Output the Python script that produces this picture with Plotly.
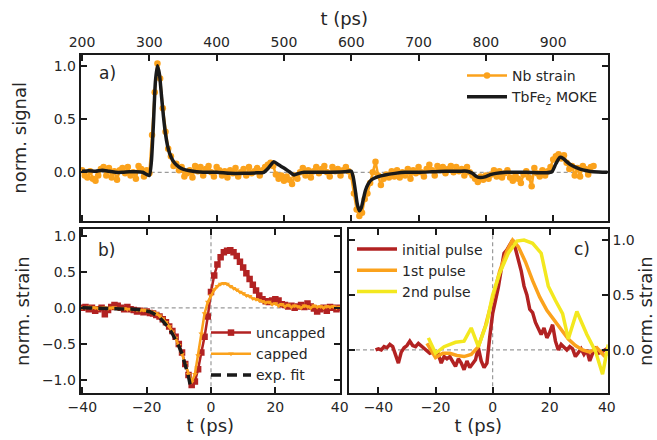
import plotly.graph_objects as go

# ---------------- data ----------------
# Panel a: TbFe2 MOKE (smooth curve)
moke_t = [200, 210, 220, 230, 240, 250, 260, 270, 280, 290, 296, 300, 303, 306, 309, 312, 315, 318,
          321, 324, 327, 330, 335, 340, 345, 350, 360, 370, 380, 400, 420, 440, 460, 470, 477, 485,
          492, 500, 508, 515, 522, 530, 560, 590, 600, 603, 606, 609, 612, 615, 618, 621, 625, 630,
          640, 650, 665, 680, 700, 720, 740, 760, 772, 780, 786, 792, 800, 808, 815, 830, 860, 890,
          898, 904, 910, 915, 920, 926, 932, 940, 950, 960, 981]
moke_v = [0.01, 0.015, 0.01, 0.02, 0.01, 0.0, 0.0, 0.005, 0.005, 0.0, -0.02, -0.03, 0.1, 0.45, 0.85,
          1.0, 0.92, 0.72, 0.52, 0.36, 0.25, 0.18, 0.11, 0.07, 0.045, 0.03, 0.015, 0.005, 0.0, 0.0,
          -0.01, -0.01, -0.005, 0.0, 0.04, 0.1, 0.07, 0.04, 0.005, -0.025, -0.01, 0.0, 0.0, 0.005,
          0.01, -0.05, -0.17, -0.3, -0.36, -0.33, -0.25, -0.17, -0.11, -0.07, -0.04, -0.025, -0.01,
          0.0, 0.0, 0.005, 0.01, 0.01, 0.01, -0.01, -0.04, -0.05, -0.04, -0.02, -0.01, 0.0, 0.0,
          -0.005, 0.005, 0.08, 0.14, 0.13, 0.1, 0.07, 0.05, 0.03, 0.015, 0.005, 0.0]

# Panel a: Nb strain (every 4 ps from 200 to 960)
nb_t = list(range(200, 961, 4))
nb_v = [0.02, -0.03, -0.05, 0.01, -0.06, -0.08, -0.03, 0.03, 0.05, -0.03,
        0.04, -0.05, 0.01, -0.07, 0.02, 0.04, -0.01, 0.05, -0.03, 0.0,
        -0.06, 0.06, 0.03, -0.04, 0.02, -0.01, 0.35, 0.75, 1.02, 0.88,
        0.6, 0.38, 0.22, 0.15, 0.06, 0.08, 0.02, 0.05, -0.04, -0.01,
        0.02, -0.05, 0.06, 0.01, 0.05, -0.03, 0.03, 0.06, 0.0, -0.04,
        0.05, 0.02, -0.03, 0.01, -0.05, 0.02, -0.01, 0.04, -0.04, 0.0,
        0.03, -0.03, 0.05, -0.01, 0.01, 0.04, -0.03, 0.02, 0.05, 0.07,
        0.09, 0.06, -0.02, -0.06, -0.03, -0.08, -0.04, -0.07, -0.11, -0.03,
        -0.06, 0.0, 0.04, -0.03, 0.02, -0.05, 0.01, 0.05, -0.01, 0.03,
        0.06, 0.0, -0.04, 0.05, 0.01, 0.03, -0.03, 0.02, 0.05, 0.01,
        -0.04, -0.2, -0.35, -0.41, -0.38, -0.25, -0.2, -0.1, 0.0, 0.1,
        -0.03, -0.12, -0.06, -0.02, -0.05, 0.01, -0.04, 0.02, -0.05, 0.0,
        -0.03, 0.03, -0.06, 0.02, -0.01, 0.05, 0.0, -0.04, 0.03, 0.07,
        0.02, -0.03, 0.06, 0.02, 0.05, -0.01, 0.03, 0.06, 0.0, 0.05,
        0.01, 0.03, -0.03, 0.05, 0.0, -0.03, -0.06, -0.09, -0.04, -0.07,
        -0.03, -0.06, -0.02, 0.02, -0.04, 0.01, -0.05, -0.01, 0.02, -0.05,
        -0.08, -0.03, -0.06, -0.1, -0.02, 0.01, -0.05, -0.13, 0.04, -0.01,
        -0.04, 0.02, -0.03, 0.01, 0.05, 0.12, 0.15, 0.17, 0.13, 0.16,
        0.09, 0.03, 0.06, -0.03, 0.04, -0.04, 0.06, 0.03, -0.02, 0.05,
        0.06]

# Panel b
b_t = list(range(-40, 41))
uncapped_v = [0.0, 0.01, -0.02, 0.0, -0.04, -0.02, 0.0, -0.09, -0.03, 0.01,
              0.04, 0.03, 0.0, -0.02, 0.01, -0.02, -0.03, -0.05, -0.04, -0.06,
              -0.05, -0.07, -0.08, -0.1, -0.12, -0.16, -0.2, -0.26, -0.32, -0.4,
              -0.5, -0.62, -0.78, -0.93, -1.07, -1.02, -0.85, -0.62, -0.4, -0.12,
              0.22, 0.45, 0.6, 0.7, 0.77, 0.79, 0.8, 0.77, 0.72, 0.64,
              0.56, 0.48, 0.4, 0.32, 0.24, 0.17, 0.12, 0.09, 0.08, 0.1,
              0.12, 0.1, 0.05, 0.04, 0.02, 0.03, 0.0, 0.02, 0.04, 0.01,
              0.06, 0.02, -0.01, -0.05, -0.02, 0.0, -0.04, 0.01, 0.0, -0.02,
              0.0]
capped_v = [0.0, 0.0, 0.01, 0.0, 0.0, -0.01, 0.0, 0.0, -0.01, 0.0,
            0.0, -0.01, -0.01, -0.01, -0.02, -0.02, -0.02, -0.03, -0.03, -0.03,
            -0.04, -0.05, -0.06, -0.08, -0.11, -0.15, -0.2, -0.26, -0.33, -0.42,
            -0.52, -0.64, -0.78, -0.92, -1.03, -0.92, -0.66, -0.36, -0.08, 0.08,
            0.17, 0.25, 0.3, 0.33, 0.34, 0.33, 0.3, 0.27, 0.25, 0.22,
            0.2, 0.17, 0.16, 0.13, 0.12, 0.1, 0.09, 0.07, 0.08, 0.05,
            0.06, 0.03, 0.05, 0.02, 0.04, 0.01, 0.03, 0.02, 0.0, 0.03,
            0.02, 0.0, 0.03, 0.01, 0.02, 0.0, 0.02, 0.01, 0.02, 0.0,
            0.01]
fit_t = [-40, -36, -33, -30, -28, -26, -25, -24, -22, -20, -19, -18, -17, -16, -15, -14, -13,
         -12, -11, -10, -9, -8, -7, -6.5]
fit_v = [0.0, -0.002, -0.004, -0.006, -0.009, -0.012, -0.015, -0.019, -0.028, -0.042, -0.055,
         -0.075, -0.1, -0.135, -0.18, -0.23, -0.29, -0.36, -0.44, -0.53, -0.64, -0.78, -0.95, -1.06]

# Panel c
init_t = list(range(-41, 41))
init_v = [0.0, 0.01, 0.0, 0.03, 0.02, 0.05, 0.03, -0.05, -0.12, -0.02,
          0.02, 0.04, 0.08, 0.04, 0.03, 0.06, 0.04, 0.02, 0.0, -0.03,
          -0.02, -0.05, -0.04, -0.12, -0.06, -0.08, -0.06, -0.1, -0.15, -0.08,
          -0.12, -0.18, -0.1, -0.16, -0.12, -0.09, 0.02, -0.1, -0.16, -0.12,
          0.12, 0.33, 0.45, 0.57, 0.73, 0.88, 0.91, 0.96, 1.0, 0.92,
          0.83, 0.72, 0.58, 0.5, 0.37, 0.34, 0.25, 0.2, 0.14, 0.2,
          0.11, 0.16, 0.23, 0.08, 0.0, 0.05, 0.03, 0.0, 0.03, 0.01,
          -0.06, -0.02, 0.01, -0.04, 0.0, -0.1, -0.03, 0.01, -0.03, -0.02,
          0.0, 0.01]
first_t = [-23, -20, -17.5, -15, -12.5, -10, -7.5, -5, -2.5, 0, 2.5, 5, 7, 9, 11.5, 14, 16.5, 19,
           21.5, 24, 26.5, 29, 31.5, 34, 36.5, 39, 40.5]
first_v = [0.06, -0.07, -0.03, -0.03, -0.05, -0.06, -0.04, 0.03, 0.22, 0.48, 0.72, 0.9, 1.0, 0.94,
           0.8, 0.63, 0.48, 0.36, 0.27, 0.18, 0.1, 0.04, 0.0, -0.02, 0.02, -0.05, -0.03]
second_t = [-22.5, -20, -17, -13, -10, -7.5, -5, -2, 0, 2.5, 5.5, 8.5, 11, 14, 17, 19.5, 22, 24.5,
            26.5, 29.5, 33, 36, 38.5, 40.5]
second_v = [0.11, -0.03, 0.03, 0.07, 0.08, 0.2, 0.03, 0.25, 0.5, 0.7, 0.88, 0.99, 1.0, 0.97, 0.88,
            0.58, 0.45, 0.33, 0.1, 0.35, 0.14, -0.01, -0.22, 0.05]

top_ticks = [200, 300, 400, 500, 600, 700, 800, 900]
b_ticks_x = [-40, -20, 0, 20, 40]
ticks_y_a = [0.0, 0.5, 1.0]
ticks_y_b = [-1.0, -0.5, 0.0, 0.5, 1.0]
ticks_y_c = [0.0, 0.5, 1.0]

# ---------------- styling ----------------
RED = "#b22222"
ORANGE = "#fba21c"
YELLOW = "#f3e81f"
BLACK = "#1a1a1a"
TXT = "#262626"
FONT = "DejaVu Sans"

W, H = 657, 440
def px_x(a, b):
    return [a / W, b / W]
def px_y(top, bottom):
    return [1 - bottom / H, 1 - top / H]

fig = go.Figure()

# panel a
fig.add_trace(go.Scatter(x=nb_t, y=nb_v, mode="lines+markers", name="Nb strain",
                         line=dict(color=ORANGE, width=2.5),
                         marker=dict(color=ORANGE, size=6.5, symbol="circle"),
                         xaxis="x", yaxis="y", legend="legend"))
fig.add_trace(go.Scatter(x=moke_t, y=moke_v, mode="lines", name="TbFe<sub>2</sub> MOKE",
                         line=dict(color=BLACK, width=3.5, shape="spline", smoothing=0.6),
                         xaxis="x", yaxis="y", legend="legend"))

# panel b
fig.add_trace(go.Scatter(x=b_t, y=uncapped_v, mode="lines+markers", name="uncapped",
                         line=dict(color=RED, width=2.5),
                         marker=dict(color=RED, size=6.5, symbol="square"),
                         xaxis="x2", yaxis="y2", legend="legend2"))
fig.add_trace(go.Scatter(x=b_t, y=capped_v, mode="lines+markers", name="capped",
                         line=dict(color=ORANGE, width=2.5),
                         marker=dict(color=ORANGE, size=5, symbol="triangle-down"),
                         xaxis="x2", yaxis="y2", legend="legend2"))
fig.add_trace(go.Scatter(x=fit_t, y=fit_v, mode="lines", name="exp. fit",
                         line=dict(color=BLACK, width=3.5, dash="10px,6px"),
                         xaxis="x2", yaxis="y2", legend="legend2"))

# panel c
fig.add_trace(go.Scatter(x=init_t, y=init_v, mode="lines", name="initial pulse",
                         line=dict(color=RED, width=3.5),
                         xaxis="x3", yaxis="y3", legend="legend3"))
fig.add_trace(go.Scatter(x=first_t, y=first_v, mode="lines", name="1st pulse",
                         line=dict(color=ORANGE, width=3.5),
                         xaxis="x3", yaxis="y3", legend="legend3"))
fig.add_trace(go.Scatter(x=second_t, y=second_v, mode="lines", name="2nd pulse",
                         line=dict(color=YELLOW, width=3.5),
                         xaxis="x3", yaxis="y3", legend="legend3"))

axis_common = dict(showgrid=False, zeroline=False, showline=True, linecolor=BLACK, linewidth=2,
                   mirror="ticks", ticks="inside", ticklen=6, tickwidth=2, tickcolor=BLACK,
                   automargin=False,
                   tickfont=dict(family=FONT, size=14, color=TXT))
title_font = dict(family=FONT, size=18, color=TXT)
leg_font = dict(family=FONT, size=14, color=TXT)

fig.update_layout(
    width=W, height=H, margin=dict(l=0, r=0, t=0, b=0, autoexpand=False),
    paper_bgcolor="white", plot_bgcolor="white",
    font=dict(family=FONT, color=TXT),
    xaxis=dict(axis_common, domain=px_x(80.7, 607.7), anchor="y", side="top",
               range=[198, 981], tickvals=top_ticks,
               title=dict(text="t (ps)", font=title_font, standoff=4)),
    yaxis=dict(axis_common, domain=px_y(55, 220.7), anchor="x", range=[-0.454, 1.10],
               tickvals=ticks_y_a, tickformat=".1f",
               title=dict(text="norm. signal", font=title_font, standoff=22)),
    xaxis2=dict(axis_common, domain=px_x(80.7, 340), anchor="y2", range=[-40.5, 40.1],
                tickvals=b_ticks_x,
                title=dict(text="t (ps)", font=title_font, standoff=2)),
    yaxis2=dict(axis_common, domain=px_y(229, 393.3), anchor="x2", range=[-1.185, 1.093],
                tickvals=ticks_y_b, tickformat=".1f",
                title=dict(text="norm. strain", font=title_font, standoff=8)),
    xaxis3=dict(axis_common, domain=px_x(349, 607.7), anchor="y3", range=[-50.3, 40.3],
                tickvals=b_ticks_x,
                title=dict(text="t (ps)", font=title_font, standoff=2)),
    yaxis3=dict(axis_common, domain=px_y(229, 393.3), anchor="x3", side="right",
                range=[-0.394, 1.10], tickvals=ticks_y_c, tickformat=".1f",
                title=dict(text="norm. strain", font=title_font, standoff=6)),
    showlegend=True,
    legend=dict(x=462 / W, y=1 - 60 / H, xanchor="left", yanchor="top", bgcolor="rgba(0,0,0,0)",
                font=leg_font, itemwidth=40, tracegroupgap=0),
    legend2=dict(x=206 / W, y=1 - 317 / H, xanchor="left", yanchor="top", bgcolor="rgba(0,0,0,0)",
                 font=leg_font, itemwidth=40),
    legend3=dict(x=352 / W, y=1 - 233.5 / H, xanchor="left", yanchor="top", bgcolor="rgba(0,0,0,0)",
                 font=leg_font, itemwidth=40),
)

# dashed reference lines
dash_style = dict(color="#9a9a9a", width=1.2, dash="4px,3px")
fig.add_shape(type="line", xref="x domain", yref="y", x0=0, x1=1, y0=0, y1=0, line=dash_style, layer="below")
fig.add_shape(type="line", xref="x2 domain", yref="y2", x0=0, x1=1, y0=0, y1=0, line=dash_style, layer="below")
fig.add_shape(type="line", xref="x2", yref="y2 domain", x0=0, x1=0, y0=0, y1=1, line=dash_style, layer="below")
fig.add_shape(type="line", xref="x3 domain", yref="y3", x0=0, x1=1, y0=0, y1=0, line=dash_style, layer="below")
fig.add_shape(type="line", xref="x3", yref="y3 domain", x0=0, x1=0, y0=0, y1=1, line=dash_style, layer="below")

# panel labels
lab_font = dict(family=FONT, size=17, color=TXT)
fig.add_annotation(text="a)", xref="x domain", yref="y domain", x=0.03, y=0.89, showarrow=False,
                   xanchor="left", yanchor="middle", font=lab_font)
fig.add_annotation(text="b)", xref="x2 domain", yref="y2 domain", x=0.06, y=0.87, showarrow=False,
                   xanchor="left", yanchor="middle", font=lab_font)
fig.add_annotation(text="c)", xref="x3 domain", yref="y3 domain", x=0.94, y=0.88, showarrow=False,
                   xanchor="right", yanchor="middle", font=lab_font)

fig.write_html("out.html", config={"displayModeBar": False},
               post_script="document.body.style.margin='0px';")
